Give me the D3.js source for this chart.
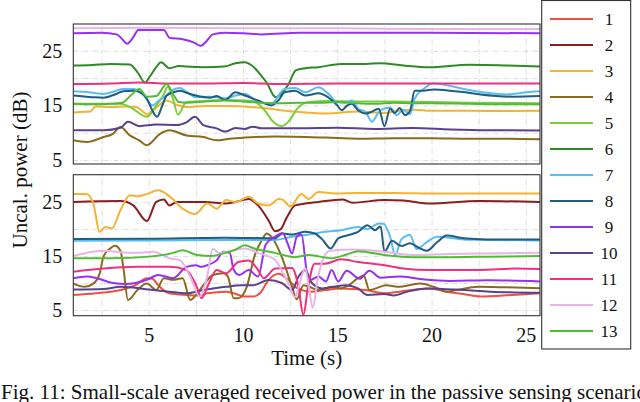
<!DOCTYPE html>
<html><head><meta charset="utf-8">
<script src="https://cdn.jsdelivr.net/npm/d3@7"></script>
<style>body{margin:0;background:#fff}svg{display:block}text{font-family:"Liberation Serif","Times New Roman",serif;fill:#111}</style>
</head><body><svg id="c" width="640" height="402"></svg>
<script>
// ---------- data ----------
const seriesNames = ["1","2","3","4","5","6","7","8","9","10","11","12","13"];
const seriesColors = ["#ef5040","#861f1f","#f5b335","#8c6a1c","#7ccf3a","#2f8a25","#58bdf5","#205d7e","#9531f2","#58438c","#f0307c","#e8b4ea","#4fbd33"];
const xTicks = [5,10,15,20,25];
const yTickLabels = [5,15,25];
const yGrid = [5,10,15,20,25];
const xGrid = [2.5,5,7.5,10,12.5,15,17.5,20,22.5,25];
const timeRange = [1,25.75];

// top panel series ([time s, power dB])
const top3 = [[1,13.7],[1.35,13.8],[1.9,13.9],[2.2,14.8],[3,14.7],[3.8,14.8],[4.4,14.6],[4.9,13.4],[5.4,14.6],[5.95,15.9],[6.5,15.1],[7,14.7],[8,14.9],[9.05,14.9],[10.8,14.6],[12.6,13.9],[14.4,13.5],[16.1,13.9],[17.5,13.6],[18.27,14.0],[19,14.2],[20,14.0],[22,14.0],[24,13.95],[25.75,14.0]];
const top4 = [[1,8.6],[1.7,8.3],[2.6,9.2],[3.1,9.8],[3.5,11.05],[4.0,9.5],[4.5,8.6],[4.9,7.7],[5.6,9.8],[6.1,10.45],[7.0,9.5],[7.9,9.2],[8.6,8.6],[9.3,8.9],[10.1,9.1],[11.7,9.3],[14.4,9.1],[16.1,8.9],[18,9.0],[20,9.0],[22,8.9],[24,8.9],[25.75,8.8]];
const top5 = [[1,15.3],[3.5,15.3],[4.1,14.5],[4.9,12.9],[5.4,15.0],[5.8,17.0],[6.0,18.4],[6.3,16.0],[6.55,13.3],[7.0,15.6],[8,15.8],[9,16.0],[10,15.9],[10.5,15.8],[11.1,14.3],[11.6,12.0],[12.05,11.2],[12.4,12.0],[12.9,14.5],[13.5,15.6],[14.5,15.8],[16,15.7],[18,15.7],[20,15.6],[22,15.5],[25.75,15.4]];
const top6 = [[1,22.3],[2,22.4],[3,22.6],[4,22.5],[4.4,21.1],[4.8,19.2],[5.1,20.5],[5.4,22.0],[5.65,22.9],[6.1,21.8],[6.6,22.2],[7,22.1],[8,22.0],[9,22.1],[9.6,22.7],[10.1,22.9],[10.5,22.2],[11.0,20.3],[11.3,18.9],[11.6,16.9],[11.75,16.5],[12.1,17.4],[12.4,18.8],[12.8,21.4],[13.3,21.8],[14,22.0],[15.2,22.6],[16.5,22.6],[17.3,22.7],[18.5,22.3],[19.9,22.0],[22,22.45],[24,22.3],[25.75,22.1]];
const top7 = [[1,17.6],[1.8,17.4],[2.6,17.1],[3.2,17.6],[3.65,18.0],[4.2,18.0],[4.7,17.0],[5.2,15.0],[5.5,15.8],[5.95,16.8],[6.3,17.9],[6.66,18.2],[7.0,17.5],[7.5,16.5],[8.2,16.6],[8.6,16.5],[9.1,16.3],[9.6,16.8],[10.1,17.1],[10.8,15.6],[11.5,15.3],[12.2,18.0],[12.76,18.2],[13.3,17.4],[14.0,18.3],[14.5,17.2],[15.0,15.6],[15.4,15.5],[15.77,15.9],[16.1,14.4],[16.5,13.8],[16.83,12.0],[17.27,14.1],[17.8,14.6],[18.16,13.2],[18.5,14.2],[18.86,13.4],[19.1,16.2],[19.57,18.0],[20.1,19.0],[20.8,18.7],[21.7,18.0],[22.6,17.45],[24,17.0],[25.05,17.4],[25.75,17.6]];
const top8 = [[1,16.8],[2,16.5],[2.6,16.4],[3.2,17.0],[3.65,17.6],[4.2,17.7],[4.6,17.3],[4.9,16.2],[5.2,14.0],[5.44,12.9],[5.7,14.8],[5.95,16.8],[6.3,17.4],[6.66,17.7],[7.0,17.3],[7.5,16.8],[8.25,16.4],[8.6,16.7],[9.05,16.0],[9.6,17.4],[10.1,16.8],[10.8,15.9],[11.5,15.0],[11.9,16.0],[12.2,17.4],[12.76,17.7],[13.3,16.8],[14.0,17.2],[14.5,16.5],[15.0,15.0],[15.24,14.1],[15.5,14.9],[15.77,15.3],[16.1,14.1],[16.5,13.5],[16.8,13.8],[17.2,14.4],[17.5,11.2],[17.8,14.4],[18.05,13.6],[18.3,14.5],[18.6,13.2],[18.86,14.0],[19.1,17.7],[19.57,17.7],[20.1,17.9],[21.0,17.7],[21.7,17.45],[22.6,17.0],[24.3,16.6],[25.75,16.7]];
const top9 = [[1,28.2],[2.5,28.3],[3.3,28.0],[3.55,27.3],[3.85,26.3],[4.15,27.3],[4.45,28.8],[5.8,28.8],[6.1,27.4],[6.8,27.1],[7.4,26.5],[7.75,25.9],[8.05,26.7],[8.4,28.0],[9,28.3],[10,28.2],[11,28.0],[13,28.3],[16,28.3],[20,28.3],[25.75,28.2]];
const top10 = [[1,10.45],[2.6,10.45],[3.5,10.9],[3.9,12.0],[4.5,11.2],[5.4,11.5],[6.5,11.4],[7.0,11.9],[7.45,12.9],[7.9,11.4],[8.6,10.8],[9.05,10.2],[9.6,10.85],[10.1,10.7],[10.5,11.1],[11,10.8],[13,10.8],[15,10.9],[17,10.7],[19,10.85],[21,10.6],[23,10.45],[25.75,10.4]];
const top11 = [[1,18.9],[3,19.0],[4.5,19.2],[6,19.0],[8,19.0],[10,19.1],[12,18.9],[15,19.0],[20,19.0],[25.75,19.0]];
const top12 = [[1,29.1],[5,29.2],[10,29.1],[15,29.1],[20,29.0],[25.75,29.0]];
const top13 = [[1,15.3],[2,15.2],[3,15.3],[3.6,15.5],[4.1,17.0],[4.5,18.0],[4.9,16.6],[5.4,16.7],[5.95,18.9],[6.3,17.0],[6.6,15.6],[7,15.5],[8,15.7],[9,15.9],[10,15.7],[11,15.5],[12,15.4],[13,15.5],[14,15.5],[15,15.6],[16,15.4],[17,15.3],[18,15.5],[19,15.4],[20,15.4],[22,15.3],[24,15.2],[25.75,15.2]];

// bottom panel series
const bot1 = [[1,7.8],[2.2,8.1],[3.5,8.7],[4.3,9.6],[4.9,10.9],[5.2,10.8],[5.5,9.6],[6.1,8.1],[7.0,7.8],[7.7,7.7],[8.1,8.1],[9.1,8.4],[9.5,8.1],[10.1,7.5],[10.55,7.5],[10.9,8.1],[11.35,10.55],[11.9,11.7],[12.4,10.55],[12.9,9.0],[13.6,8.4],[14.35,8.7],[15.2,9.0],[16.5,8.7],[17.5,8.1],[18.3,8.4],[19.9,9.0],[20.8,8.4],[21.7,7.96],[22.6,7.5],[24.3,7.8],[25.75,8.1]];
const bot2 = [[1,25.05],[3.5,25.2],[4.18,24.4],[4.9,21.5],[5.4,25.05],[5.8,25.5],[6.1,24.4],[6.5,25.05],[8,25.05],[9.1,24.75],[9.6,25.05],[10.3,25.6],[10.8,24.4],[11.35,21.65],[11.7,19.6],[12.0,20.0],[12.3,22.0],[12.76,24.4],[13.3,24.75],[14.0,25.05],[15.3,25.5],[15.8,24.9],[17.5,25.4],[18.5,25.3],[19.9,24.75],[22.5,25.2],[25.75,25.05]];
const bot3 = [[1,26.5],[1.7,26.5],[2.06,24.75],[2.4,19.5],[2.7,20.4],[3.04,20.1],[3.5,23.5],[4.0,26.3],[4.4,26.1],[4.9,26.5],[5.5,27.2],[6.1,26.1],[6.8,23.8],[7.46,22.8],[8.1,24.75],[8.6,23.8],[9.1,25.4],[9.6,25.0],[10.3,26.0],[10.8,24.75],[11.35,24.4],[11.9,25.6],[12.14,25.4],[12.5,24.2],[13.1,26.5],[13.47,25.6],[14.0,26.9],[14.9,26.6],[16,26.7],[18,26.7],[20,26.6],[22,26.6],[24,26.6],[25.75,26.6]];
const bot4 = [[1,9.9],[1.6,9.3],[2.06,9.9],[2.4,11.8],[2.6,14.9],[2.95,16.4],[3.2,16.9],[3.5,16.0],[3.65,13.0],[3.9,6.85],[4.4,8.7],[4.9,9.9],[5.4,8.7],[5.8,10.9],[6.3,10.6],[6.8,10.9],[7.2,6.85],[7.55,8.0],[7.9,9.6],[8.4,11.5],[8.96,11.8],[9.2,11.2],[9.5,7.2],[9.75,7.2],[10.2,9.3],[10.6,14.9],[11.0,18.0],[11.26,19.2],[11.5,18.6],[12.05,14.9],[12.6,9.3],[12.85,7.0],[13.2,9.6],[13.5,9.3],[14.0,8.7],[14.7,9.3],[15.2,9.0],[15.6,9.6],[16.1,10.9],[16.4,11.4],[16.7,8.7],[17.6,9.6],[18.2,9.3],[19.4,9.9],[20.1,9.3],[20.8,8.4],[21.3,8.7],[22.5,9.3],[24,9.2],[25.75,9.05]];
const bot7 = [[1,17.85],[5,17.9],[9,18.0],[11.7,18.0],[12.6,18.6],[13.5,19.0],[14.35,19.5],[15.2,19.8],[16.1,20.4],[16.6,20.0],[17.2,21.05],[17.45,21.0],[17.8,18.6],[18.07,15.2],[18.4,18.1],[18.86,18.9],[19.2,16.3],[19.75,17.6],[20.3,18.6],[21.7,18.1],[23,18.0],[25.75,17.9]];
const bot8 = [[1,18.15],[5,18.2],[9,18.4],[11.7,18.3],[12.1,19.2],[12.6,19.0],[13.3,19.5],[13.8,19.2],[14.2,18.1],[14.65,16.4],[15.05,18.3],[15.6,18.9],[16.1,19.5],[16.6,20.7],[17.0,19.8],[17.3,20.5],[17.5,15.8],[17.9,17.85],[18.4,16.85],[18.86,17.4],[19.3,16.6],[19.75,16.0],[20.3,17.6],[20.8,18.8],[21.7,18.3],[22.9,18.1],[25.75,18.1]];
const bot9 = [[1,10.9],[1.7,11.2],[2.24,10.9],[3.1,10.0],[3.8,9.8],[4.9,10.6],[5.5,11.5],[6.3,10.9],[7.0,13.0],[7.5,13.3],[7.8,13.0],[8.1,13.3],[8.6,14.2],[8.96,15.8],[9.3,15.6],[9.5,12.5],[9.8,11.5],[10.3,12.4],[10.8,11.2],[11.2,17.1],[11.7,18.6],[12.1,19.3],[12.35,17.5],[12.6,15.5],[12.85,18.6],[13.1,19.0],[13.4,11.8],[13.6,10.6],[14.0,11.2],[14.4,10.3],[14.7,12.4],[15.05,10.3],[15.5,12.3],[16.2,10.8],[16.7,12.3],[17.3,11.0],[18.3,11.2],[19.5,10.7],[21,10.4],[23,10.5],[25.75,10.3]];
const bot10 = [[1,8.8],[2.6,8.9],[3.5,9.3],[5.24,8.7],[6.1,8.4],[7.0,8.1],[7.9,8.7],[8.6,9.1],[9.1,9.3],[9.9,9.6],[10.55,9.6],[11.35,10.55],[12.05,10.0],[12.6,8.7],[12.95,11.2],[13.3,12.4],[13.65,10.0],[14.2,9.0],[15.4,9.6],[16.1,9.0],[16.6,7.8],[17.5,7.96],[18.0,7.7],[18.7,8.4],[19.75,9.0],[21.7,8.7],[23.1,8.4],[25.75,8.2]];
const bot11 = [[1,12.1],[2.6,12.7],[4.4,13.0],[6.1,13.0],[7.0,12.4],[7.55,9.3],[7.8,7.2],[8.2,10.0],[8.6,12.4],[9.1,11.8],[9.75,13.9],[10.3,14.2],[10.8,12.4],[11.1,10.9],[11.7,12.7],[12.6,12.8],[12.94,9.3],[13.2,4.1],[13.45,9.3],[13.8,13.6],[14.35,13.6],[15.2,14.4],[16.1,13.9],[17.5,13.3],[18.5,12.7],[19.9,12.4],[22.5,12.4],[24.5,12.7],[25.75,12.6]];
const bot12 = [[1,15.0],[2.6,16.0],[3.5,15.7],[4.4,15.6],[5.24,15.8],[6.1,14.6],[6.66,14.2],[7.2,11.2],[7.7,7.5],[8.1,11.2],[8.4,16.4],[8.7,15.6],[9.1,15.8],[10.1,16.4],[10.8,15.6],[11.7,14.3],[12.1,12.0],[12.4,10.0],[12.75,7.4],[13.05,10.5],[13.3,12.8],[13.5,9.0],[13.7,5.4],[13.95,10.5],[14.2,14.0],[14.6,16.0],[15.85,16.2],[17.5,15.8],[19,15.2],[21,15.4],[23,15.5],[25.75,15.6]];
const bot13 = [[1,14.6],[3,14.6],[5,14.9],[6.3,15.6],[6.8,16.1],[7.55,15.2],[8.3,15.0],[9.05,15.6],[9.6,16.2],[10.1,17.0],[10.6,16.4],[11.7,15.6],[12.76,14.8],[13.5,15.2],[14.7,14.6],[15.5,15.3],[16.1,15.9],[17.5,15.2],[19,14.8],[21,14.8],[23,14.9],[25.75,15.0]];

const topSeries = [[3,top3],[4,top4],[5,top5],[6,top6],[7,top7],[8,top8],[9,top9],[10,top10],[11,top11],[12,top12],[13,top13]];
const botSeries = [[1,bot1],[2,bot2],[3,bot3],[4,bot4],[7,bot7],[8,bot8],[9,bot9],[10,bot10],[11,bot11],[12,bot12],[13,bot13]];

// ---------- drawing ----------
const FONT = '"Liberation Serif","Times New Roman",serif';
const svg = d3.select("#c");
const L = 73.3, R = 540;
const x = d3.scaleLinear(timeRange, [L, R]);
const panels = [
  {series: topSeries, y: d3.scaleLinear([4.27, 29.9], [164, 24]), top: 24, bottom: 164, id: "t", xlabels: false},
  {series: botSeries, y: d3.scaleLinear([3.94, 30.1], [315.7, 174.7]), top: 174.7, bottom: 315.7, id: "b", xlabels: true}
];

panels.forEach(p => {
  const g = svg.append("g");
  g.append("clipPath").attr("id", "clip" + p.id).append("rect")
    .attr("x", L).attr("y", p.top).attr("width", R - L).attr("height", p.bottom - p.top);
  // grid
  const gx = g.append("g").attr("transform", `translate(0,${p.bottom})`)
    .call(d3.axisBottom(x).tickValues(xGrid).tickSize(-(p.bottom - p.top)).tickFormat(""));
  const gy = g.append("g").attr("transform", `translate(${L},0)`)
    .call(d3.axisLeft(p.y).tickValues(yGrid).tickSize(-(R - L)).tickFormat(""));
  [gx, gy].forEach(a => {
    a.select(".domain").remove();
    a.selectAll("line").attr("stroke", "#cfcfcf").attr("stroke-width", 0.7).attr("stroke-dasharray", "5,2,1,2");
  });
  // y labels
  const ya = g.append("g").attr("transform", `translate(${L},0)`)
    .call(d3.axisLeft(p.y).tickValues(yTickLabels).tickSize(0).tickPadding(11));
  ya.attr("font-family", FONT).select(".domain").remove();
  ya.selectAll("text").attr("font-size", 20).attr("font-family", FONT).attr("fill", "#111");
  if (p.xlabels) {
    const xa = g.append("g").attr("transform", `translate(0,${p.bottom})`)
      .call(d3.axisBottom(x).tickValues(xTicks).tickSize(0).tickPadding(12.5));
    xa.attr("font-family", FONT).select(".domain").remove();
    xa.selectAll("text").attr("font-size", 20).attr("font-family", FONT).attr("fill", "#111");
  }
  // lines
  const line = d3.line().x(d => x(d[0])).y(d => p.y(d[1])).curve(d3.curveMonotoneX);
  const lg = g.append("g").attr("clip-path", `url(#clip${p.id})`);
  p.series.forEach(([k, pts]) => {
    lg.append("path").attr("d", line(pts)).attr("fill", "none")
      .attr("stroke", seriesColors[k - 1]).attr("stroke-width", 2).attr("stroke-linejoin", "round");
  });
  // frame
  g.append("rect").attr("x", L).attr("y", p.top).attr("width", R - L).attr("height", p.bottom - p.top)
    .attr("fill", "none").attr("stroke", "#333").attr("stroke-width", 1.1);
});

// axis titles
svg.append("text").attr("transform", "translate(27,170) rotate(-90)").attr("text-anchor", "middle")
  .attr("font-family", FONT).attr("font-size", 21).text("Uncal. power (dB)");
svg.append("text").attr("x", (L + R) / 2).attr("y", 364.5).attr("text-anchor", "middle")
  .attr("font-family", FONT).attr("font-size", 21).text("Time (s)");

// legend
const lgd = svg.append("g");
lgd.append("rect").attr("x", 541.7).attr("y", 0.5).attr("width", 89).attr("height", 348.5)
  .attr("fill", "#fff").attr("stroke", "#333").attr("stroke-width", 1.1);
const ly = d3.scalePoint(seriesNames, [19, 331]);
seriesNames.forEach((n, i) => {
  lgd.append("line").attr("x1", 550).attr("x2", 593).attr("y1", ly(n)).attr("y2", ly(n))
    .attr("stroke", seriesColors[i]).attr("stroke-width", 2);
  lgd.append("text").attr("x", 609).attr("y", ly(n)).attr("dy", "0.35em").attr("text-anchor", "middle")
    .attr("font-family", FONT).attr("font-size", 17).text(n);
});

// caption (cut off at the right edge, as in the reference)
svg.append("text").attr("x", 1).attr("y", 399).attr("font-family", FONT).attr("font-size", 21)
  .text("Fig. 11: Small-scale averaged received power in the passive sensing scenario");
</script></body></html>
